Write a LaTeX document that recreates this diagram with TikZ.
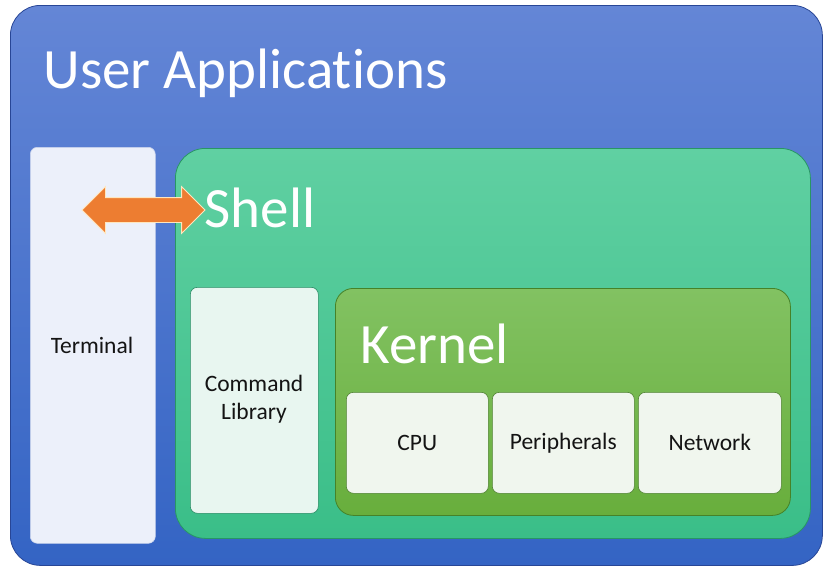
\documentclass[tikz,border=0pt]{standalone}
\usepackage{fontspec}
\setmainfont[Ligatures=NoCommon]{Carlito}
\usetikzlibrary{shapes.arrows}
\definecolor{blueTop}{RGB}{100,134,214}
\definecolor{blueBot}{RGB}{52,100,196}
\definecolor{blueEdge}{RGB}{40,70,150}
\definecolor{termFill}{RGB}{236,240,250}
\definecolor{termEdge}{RGB}{200,210,235}
\definecolor{shellTop}{RGB}{96,208,162}
\definecolor{shellBot}{RGB}{58,190,136}
\definecolor{shellEdge}{RGB}{40,150,100}
\definecolor{cmdFill}{RGB}{232,246,240}
\definecolor{cmdEdge}{RGB}{40,140,100}
\definecolor{kerTop}{RGB}{130,194,98}
\definecolor{kerBot}{RGB}{104,174,60}
\definecolor{kerEdge}{RGB}{70,130,40}
\definecolor{partFill}{RGB}{240,246,238}
\definecolor{partEdge}{RGB}{80,130,50}
\definecolor{arrFill}{RGB}{237,125,49}
\definecolor{arrEdge}{RGB}{255,230,190}
\definecolor{txt}{RGB}{20,20,20}
\begin{document}
\begin{tikzpicture}[x=1pt,y=-1pt,
  box/.style={line width=0.8pt, anchor=north west, inner sep=0pt},
  whitebox/.style={line width=0.6pt, rounded corners=7pt, anchor=north west, inner sep=0pt},
  title/.style={anchor=base west, text=white, font=\fontsize{57}{57}\selectfont},
  small/.style={font=\fontsize{23.5}{28}\selectfont, text=txt, align=center}
]
\useasboundingbox[fill=white] (0,0) rectangle (823,568);
% outer
\node[box, draw=blueEdge, rounded corners=30pt, top color=blueTop, bottom color=blueBot, minimum width=812pt, minimum height=560pt] (outer) at (10,5) {};
\node[title] (ua) at (40,88) {User Applications};
% terminal
\node[whitebox, fill=termFill, draw=termEdge, minimum width=125pt, minimum height=396pt] (term) at (30,147) {};
\node[small] (termt) at (92,345) {Terminal};
% shell
\node[box, draw=shellEdge, rounded corners=30pt, top color=shellTop, bottom color=shellBot, minimum width=635pt, minimum height=390pt] (shell) at (175,148) {};
\node[title, font=\fontsize{57}{57}\selectfont] (shellt) at (201,227) {Shell};
% command library
\node[whitebox, fill=cmdFill, draw=cmdEdge, minimum width=128pt, minimum height=226pt] (cmd) at (190,287) {};
\node[small] (cmdt) at (254,399) {Command\\Library};
% kernel
\node[box, draw=kerEdge, rounded corners=18pt, top color=kerTop, bottom color=kerBot, minimum width=455pt, minimum height=227pt] (kernel) at (335,288) {};
\node[title] (kernelt) at (357,363) {Kernel};
% inner boxes
\node[whitebox, fill=partFill, draw=partEdge, minimum width=142pt, minimum height=101pt] (cpu) at (346,392) {};
\node[whitebox, fill=partFill, draw=partEdge, minimum width=142pt, minimum height=101pt] (per) at (492,392) {};
\node[whitebox, fill=partFill, draw=partEdge, minimum width=143pt, minimum height=101pt] (net) at (638,392) {};
\node[small] (cput) at (cpu.center) {CPU};
\node[small] (pert) at (per.center) {Peripherals};
\node[small] (nett) at (net.center) {Network};
% double arrow
\node[double arrow, fill=arrFill, draw=arrEdge, line width=0.8pt, minimum width=46pt, minimum height=123pt, double arrow head extend=11pt, double arrow tip angle=90, inner sep=0pt, text height=24pt] (arr) at (143.5,210) {};
\end{tikzpicture}
\end{document}
